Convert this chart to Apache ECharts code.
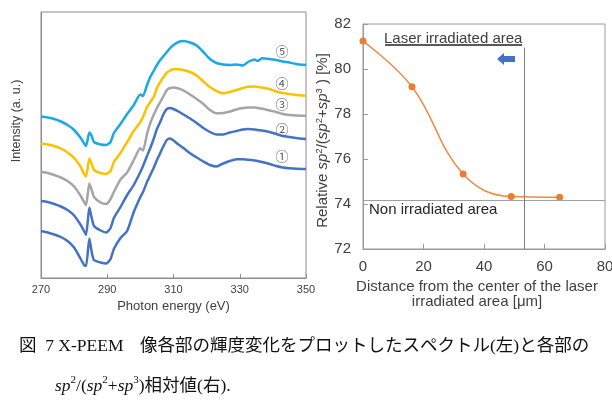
<!DOCTYPE html>
<html>
<head>
<meta charset="utf-8">
<script src="https://cdn.jsdelivr.net/npm/echarts@6/dist/echarts.min.js"></script>
<style>
html,body{margin:0;padding:0;background:#fff;}
#chart{width:612px;height:403px;}
</style>
</head>
<body>
<div id="chart"></div>
<script>
// ---- Left panel: X-PEEM spectra (photon energy, eV) ----
const energy = [270,272,274,276,278,280,282,283,283.6,284.6,285.3,286,288,289.7,291,292,294,296,298,300,300.8,302,303,304,305,306,307,308,309,310,311.5,313,315,317,319,321,323,325,327,329,331,332.5,334.5,335.4,336.7,339,341,343,345,347,350];
// intensities (a.u.)
const spectrum1 = [47,45.5,43.5,41,37,30.5,19,13,12,39.5,26,18,15.5,14.5,19,29,40,47,66,81,86,96,103,110,118,125,132,138,139.5,137.5,133.5,130,124.7,120.5,116.5,113,111.5,114.5,117,118.7,118.7,118.3,117.5,117,116,114,112,110.5,109.7,109.2,109];
const spectrum2 = [77,76,74,71.5,68,62.5,53,47,43,70.5,60,52,47.5,45.5,50,60,71,83,93,106,112,122,130,139,149,156,164,169,170,169,166.5,163.5,159.5,155,150,146,143.5,143.5,145.5,147,148.5,149,148.5,148,147.5,146,144,142,141,140,139];
const spectrum3 = [106,105,103,100.5,97,91.5,82,76,73,94.5,88,81,75.5,74,79,86,98.5,105.5,118,129.7,127.5,144,155,163,170,176,182,188,190,190.5,189.5,187.5,183.5,179,174,168,164.7,165,166.5,168.5,170,170.5,170.5,170,169.5,167.5,166,164,163,162.5,162.3];
const spectrum4 = [134.5,133.5,132,129.5,125.5,120,111,104,101.5,119.5,114,108,105,104,107,116,125,136,147,156,161,171,176,181,190,196,201,205.3,207.5,208.7,208.7,208,206,202.5,196.5,191,187,184.7,186,188,190,191.2,191.5,191,190.5,189,186.5,185,184,183,182.3];
const spectrum5 = [161.5,160.5,159,156.5,153,148,140,134.5,132,145.5,142,136,133.5,133,136,145,154,164,173,183.5,182,193,201,207,213,218,222,226,230,233,236,237,235.5,232.5,226,219,215,213.5,213,213.5,212.5,216,218.5,217,219.7,219,218,216.5,215.5,214,213];
const spectrumLabels = ['①','②','③','④','⑤'];
const energyTicks = [270, 350, 20]; // min, max, step

// ---- Right panel: relative sp2/(sp2+sp3) ----
const distance = [0, 16.2, 33.1, 49, 65];
const sp2Ratio = [81.24, 79.21, 75.33, 74.33, 74.3];
const boundaryDistance = 53.2;   // edge of laser irradiated area
const nonIrradiatedLevel = 74.18;

const chart = echarts.init(document.getElementById('chart'), null, {renderer:'canvas'});
const sans = '"Liberation Sans", Arial, sans-serif';
const colors = ['#4472C4','#4472C4','#A5A5A5','#FFC000','#1AA9E6'];
const spectra = [spectrum1, spectrum2, spectrum3, spectrum4, spectrum5];

const lineSeries = spectra.map((s, k) => ({
  type:'line', xAxisIndex:0, yAxisIndex:0, symbol:'none', smooth:0.2,
  data: energy.map((e,i)=>[e, s[i]]),
  lineStyle:{color:colors[k], width:2.5}, itemStyle:{color:colors[k]},
  z: 2
}));

const supRich = {
  i:{fontStyle:'italic', fontFamily:sans, fontSize:15, color:'#404040', lineHeight:18},
  n:{fontFamily:sans, fontSize:15, color:'#404040', lineHeight:18},
  s:{fontFamily:sans, fontSize:9.5, color:'#404040', verticalAlign:'top', lineHeight:10}
};

const option = {
  animation:false,
  backgroundColor:'#fff',
  grid:[
    {left:41, top:12, width:265, height:266, show:true, borderColor:'#8c8c8c', borderWidth:1, backgroundColor:'transparent', outerBoundsMode:'none'},
    {left:363, top:24, width:242, height:225, show:true, borderColor:'#9a9a9a', borderWidth:1, backgroundColor:'transparent', outerBoundsMode:'none'}
  ],
  xAxis:[
    {gridIndex:0, type:'value', min:energyTicks[0], max:energyTicks[1], interval:energyTicks[2],
     axisLine:{show:true, lineStyle:{color:'#8c8c8c'}},
     axisTick:{show:true, inside:true, length:4, lineStyle:{color:'#8c8c8c'}},
     axisLabel:{fontFamily:sans, fontSize:11, color:'#404040', margin:6, showMinLabel:true, showMaxLabel:true},
     splitLine:{show:false},
     name:'Photon energy (eV)', nameLocation:'middle', nameGap:20,
     nameTextStyle:{fontFamily:sans, fontSize:13, color:'#404040'}},
    {gridIndex:1, type:'value', min:0, max:80, interval:20,
     axisLine:{show:true, lineStyle:{color:'#9a9a9a'}},
     axisTick:{show:true, inside:true, length:5, lineStyle:{color:'#9a9a9a'}},
     axisLabel:{fontFamily:sans, fontSize:15, color:'#404040', margin:10, showMinLabel:true, showMaxLabel:true},
     splitLine:{show:false},
     name:'Distance from the center of the laser\nirradiated area [μm]', nameLocation:'middle', nameGap:26,
     nameTextStyle:{fontFamily:sans, fontSize:15, color:'#404040', lineHeight:15, padding:[0,14,0,0]}}
  ],
  yAxis:[
    {gridIndex:0, type:'value', min:0, max:266,
     axisLine:{show:true, lineStyle:{color:'#8c8c8c'}},
     axisTick:{show:false}, axisLabel:{show:false}, splitLine:{show:false}},
    {gridIndex:1, type:'value', min:72, max:82, interval:2,
     axisLine:{show:true, lineStyle:{color:'#9a9a9a'}},
     axisTick:{show:true, inside:true, length:5, lineStyle:{color:'#9a9a9a'}},
     axisLabel:{fontFamily:sans, fontSize:15, color:'#404040', margin:12, showMinLabel:true, showMaxLabel:true},
     splitLine:{show:false},
     name:'{n|Relative }{i|sp}{s|2}{n|/(}{i|sp}{s|2}{n|+}{i|sp}{s|3}{n| ) [%]}',
     nameLocation:'middle', nameGap:28,
     nameTextStyle:{rich:supRich, padding:[0,8,0,0]}}
  ],
  series:[
    ...lineSeries,
    {type:'line', xAxisIndex:1, yAxisIndex:1, smooth:0.4,
     data: distance.map((d,i)=>[d, sp2Ratio[i]]),
     symbol:'circle', symbolSize:7,
     lineStyle:{color:'#EF8A47', width:1.5}, itemStyle:{color:'#ED7D31'},
     z:3,
     markLine:{silent:true, symbol:'none', label:{show:false}, animation:false,
       data:[
         [{coord:[0, nonIrradiatedLevel], lineStyle:{color:'#a0a0a0', width:1, type:'solid'}}, {coord:[80, nonIrradiatedLevel]}],
         [{coord:[boundaryDistance, 72], lineStyle:{color:'#7f7f7f', width:1, type:'solid'}}, {coord:[boundaryDistance, 80.95]}],
         [{coord:[7.3, 81.08], lineStyle:{color:'#595959', width:2, type:'solid'}}, {coord:[52.6, 81.08]}]
       ]}
    }
  ],
  graphic:[
    {type:'text', x:17, y:121, rotation:Math.PI/2,
     style:{text:'Intensity (a. u.)', font:'12.5px "Liberation Sans"', fill:'#404040', align:'center', verticalAlign:'middle'}},
    ...spectrumLabels.map((t,k)=>({type:'text', x:282, y:[155.7,129,104,83.5,51][k],
      style:{text:t, font:'13px "Noto Sans CJK JP"', fill:'#595959', align:'center', verticalAlign:'middle'}})),
    {type:'text', x:384, y:39, style:{text:'Laser irradiated area', font:'15px "Liberation Sans"', fill:'#404040', verticalAlign:'middle'}},
    {type:'text', x:369, y:210, style:{text:'Non irradiated area', font:'15px "Liberation Sans"', fill:'#262626', verticalAlign:'middle'}},
    {type:'polygon', shape:{points:[[497,59],[504,53],[504,56],[515,56],[515,62],[504,62],[504,65]]}, style:{fill:'#4472C4'}},
    {type:'text', x:19, y:346, style:{text:'図  7 X-PEEM',
      font:'17.5px "Liberation Serif", "Noto Sans CJK JP"', fill:'#111', verticalAlign:'middle'}},
    {type:'text', x:140, y:346, style:{text:'像各部の輝度変化をプロットしたスペクトル(左)と各部の',
      font:'17.5px "Liberation Serif", "Noto Sans CJK JP"', fill:'#111', verticalAlign:'middle'}},
    {type:'text', x:55, y:386, style:{
      text:'{i|sp}{s|2}{n|/(}{i|sp}{s|2}{n|+}{i|sp}{s|3}{n|)相対値(右).}',
      verticalAlign:'middle',
      rich:{
        i:{fontStyle:'italic', fontFamily:'"Liberation Serif"', fontSize:17.5, fill:'#111', lineHeight:22},
        n:{fontFamily:'"Liberation Serif", "Noto Sans CJK JP"', fontSize:17.5, fill:'#111', lineHeight:22},
        s:{fontFamily:'"Liberation Serif"', fontSize:11, fill:'#111', verticalAlign:'top', lineHeight:12}
      }}}
  ]
};
chart.setOption(option);
</script>
</body>
</html>
